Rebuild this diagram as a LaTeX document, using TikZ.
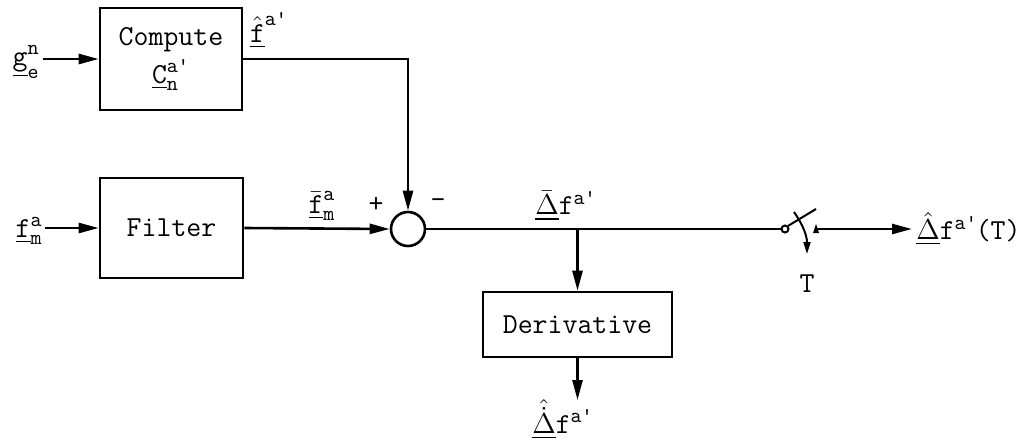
\documentclass[tikz,border=0pt]{standalone}
\usepackage{amsmath}
\usepackage{fontspec}
\renewcommand{\familydefault}{\ttdefault}
\usetikzlibrary{arrows.meta}
\DeclareMathSizes{14.5}{14.5}{10.5}{8}
\newcommand{\tx}[1]{\texttt{#1}}
\begin{document}
\begin{tikzpicture}[x=0.5pt,y=-0.5pt,
  font=\ttfamily\fontsize{14.5}{17}\selectfont,
  line width=1.3pt,
  blk/.style={draw, line width=1.3pt, inner sep=0pt, align=center},
  arr/.style={-{Triangle[length=10pt,width=5pt]}},
  sarr/.style={-{Triangle[length=6pt,width=3.5pt]}},
  lbl/.style={inner sep=0pt}]
\useasboundingbox (0,0) rectangle (1024,439);

% blocks
\node[blk, minimum width=71pt, minimum height=51pt] (comp) at (171,59)
  {Compute\\[2pt]$\underline{\tx{C}}^{\tx{a'}}_{\tx{n}}$};
\node[blk, minimum width=71.5pt, minimum height=50pt] (filt) at (171.5,228) {Filter};
\node[draw, circle, minimum size=17pt, inner sep=0pt, line width=1.3pt] (sum) at (408,229) {};
\node[blk, minimum width=94.5pt, minimum height=32.5pt] (der) at (577.5,324.5) {Derivative};
\node[draw, circle, minimum size=3.5pt, inner sep=0pt, line width=1pt] (swc) at (785,229) {};

% coordinates
\coordinate (gin) at (43,59);
\coordinate (fin) at (45,228);
\coordinate (br) at (577.5,229);
\coordinate (dout) at (577.5,400);
\coordinate (lev) at (816,209);
\coordinate (act1) at (794,212);
\coordinate (act2) at (807,254);
\coordinate (cont) at (816,229);
\coordinate (oend) at (912,229);

% labels
\node[lbl, anchor=east] (g) at (41,62) {$\underline{\tx{g}}^{\tx{n}}_{\tx{e}}$};
\node[lbl, anchor=east] (fm) at (44,231) {$\underline{\tx{f}}^{\tx{a}}_{\tx{m}}$};
\node[lbl] (fhat) at (269,30) {$\underline{\hat{\tx{f}}}^{\tx{a'}}$};
\node[lbl] (fbar) at (322,206) {$\underline{\bar{\tx{f}}}^{\tx{a}}_{\tx{m}}$};
\node[lbl] (plus) at (376,205) {+};
\node[lbl] (minus) at (438,204) {-};
\node[lbl] (dbar) at (566,206) {$\underline{\bar{\Delta}}\tx{f}^{\tx{a'}}$};
\node[lbl, anchor=north] (ddot) at (563,398) {$\underline{\hat{\dot{\Delta}}}\tx{f}^{\tx{a'}}$};
\node[lbl] (T) at (807,284) {T};
\node[lbl, anchor=west] (out) at (915,229) {$\underline{\hat{\Delta}}\tx{f}^{\tx{a'}}$\kern-1pt(T)};

% connectors
\draw[arr] (gin) -- (comp.west);
\draw[arr] (fin) -- (filt.west);
\draw[arr] (comp.east) -| (sum.north);
\draw[arr] (filt.east) -- (sum.west);
\draw (sum.east) -- (swc.west);
\draw[arr] (br) -- (der.north);
\draw[arr] (der.south) -- (dout);
\draw[line width=1pt] (swc.north east) -- (lev);
\draw[sarr, line width=1pt] (act1) to[out=-55,in=90] (act2);
\fill (cont) ++(-3,4) -- ++(3,-9) -- ++(3,9) -- cycle;
\draw[arr] (cont) -- (oend);
\end{tikzpicture}
\end{document}
